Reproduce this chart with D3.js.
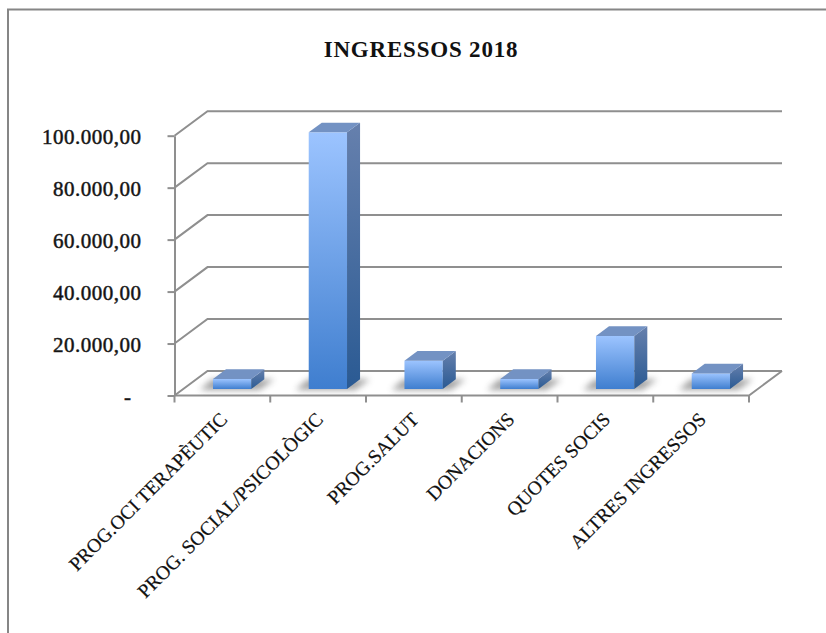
<!DOCTYPE html>
<html>
<head>
<meta charset="utf-8">
<script src="https://cdn.jsdelivr.net/npm/d3@7"></script>
<style>
  html, body { margin: 0; padding: 0; background: #fff; }
  text { font-family: "Liberation Serif", serif; fill: #111; }
</style>
</head>
<body>
<svg id="chart" width="826" height="633"></svg>
<script>
const categories = ["PROG.OCI TERAPÈUTIC", "PROG. SOCIAL/PSICOLÒGIC", "PROG.SALUT", "DONACIONS", "QUOTES SOCIS", "ALTRES INGRESSOS"];
const values = [3850, 98800, 10900, 3850, 20400, 6000];
const yTicks = [0, 20000, 40000, 60000, 80000, 100000];
const title = "INGRESSOS 2018";

const svg = d3.select("#chart");
const grey = "#8f8f8f";

// front plane of the 3d box, the back plane is shifted by depth
const x = d3.scaleBand().domain(categories).range([174.5, 749]);
const y = d3.scaleLinear().domain([0, 100000]).range([395.5, 135.7]);
const depthX = 33, depthY = -24.5;
const barFront = 0.265, barBack = 0.66;

const locale = d3.formatLocale({ decimal: ",", thousands: ".", grouping: [3], currency: ["", ""] });
const fmt = locale.format(",.2f");

const defs = svg.append("defs");
function gradient(id, top, bottom) {
    const g = defs.append("linearGradient").attr("id", id).attr("x1", 0).attr("y1", 0).attr("x2", 0).attr("y2", 1);
    g.append("stop").attr("offset", "0%").attr("stop-color", top);
    g.append("stop").attr("offset", "100%").attr("stop-color", bottom);
}
gradient("front", "#9cc4ff", "#3f7ecf");
gradient("side", "#6680ad", "#2a5a93");
defs.append("filter").attr("id", "blur").attr("x", "-30%").attr("y", "-80%").attr("width", "160%").attr("height", "260%")
    .append("feGaussianBlur").attr("stdDeviation", 3);
defs.append("filter").attr("id", "soft").attr("x", "-5%").attr("y", "-5%").attr("width", "110%").attr("height", "110%")
    .append("feGaussianBlur").attr("stdDeviation", 0.4);

// chart area frame (only left and top show in the picture)
svg.append("path")
    .attr("d", "M8,633V9.5H826")
    .attr("fill", "none").attr("stroke", "#868686").attr("stroke-width", 2);

// walls and floor
const walls = svg.append("g").attr("fill", "none").attr("stroke", grey).attr("stroke-width", 2).attr("filter", "url(#soft)");
const x0 = x.range()[0], x1 = x.range()[1];
walls.selectAll(".grid")
    .data(yTicks)
    .enter().append("path")
    .attr("class", "grid")
    .attr("d", d => `M${x0},${y(d)}L${x0 + depthX},${y(d) + depthY}H${x1 + depthX}`);
walls.append("path")
    .attr("d", `M${x0},${y(0)}H${x1}L${x1 + depthX},${y(0) + depthY}`);

// axes
const yAxis = d3.axisLeft(y).tickValues(yTicks).tickSizeInner(7).tickSizeOuter(0).tickPadding(0)
    .tickFormat(d => d === 0 ? "-" : fmt(d));
const yG = svg.append("g").attr("transform", `translate(${x0},0)`).call(yAxis);
yG.select(".domain").attr("stroke", grey).attr("stroke-width", 2);
yG.selectAll(".tick line").attr("stroke", grey).attr("stroke-width", 2);
yG.selectAll(".tick text")
    .attr("x", d => d === 0 ? -43 : -33)
    .attr("y", 1.5)
    .attr("font-size", 21)
    .attr("letter-spacing", 0.5)
    .attr("font-family", "Liberation Serif")
    .attr("fill", "#222").attr("stroke", "#222").attr("stroke-width", 0.5);

const tickPos = d3.range(categories.length + 1).map(i => x0 + i * x.bandwidth());
svg.append("g").selectAll("line")
    .data(tickPos)
    .enter().append("line")
    .attr("x1", d => d).attr("x2", d => d)
    .attr("y1", y(0)).attr("y2", y(0) + 7)
    .attr("stroke", grey).attr("stroke-width", 2);

// bars
const barW = x.bandwidth() * 0.4;
function barX(d) { return x(d) + (x.bandwidth() - barW) / 2 + depthX * barFront + 1; }
const floorY = y(0) + depthY * barFront;
const dx = depthX * (barBack - barFront), dy = depthY * (barBack - barFront);
const barH = v => y(0) - y(v);

const bars = svg.append("g").selectAll(".bar")
    .data(categories.map((c, i) => ({ c, v: values[i] })))
    .enter().append("g").attr("class", "bar");

bars.append("path")
    .attr("d", d => {
        const l = barX(d.c);
        return `M${l - 13},${floorY + 1}L${l - 1},${floorY + dy}H${l + barW + dx + 10}L${l + barW + 8},${floorY + 1}Z`;
    })
    .attr("fill", "#666").attr("opacity", 0.6).attr("filter", "url(#blur)");
bars.append("rect")
    .attr("x", d => barX(d.c)).attr("y", d => floorY - barH(d.v))
    .attr("width", barW).attr("height", d => barH(d.v))
    .attr("fill", "url(#front)");
bars.append("path")
    .attr("d", d => {
        const r = barX(d.c) + barW, t = floorY - barH(d.v);
        return `M${r},${t}l${dx},${dy}V${floorY + dy}L${r},${floorY}Z`;
    })
    .attr("fill", "url(#side)");
bars.append("path")
    .attr("d", d => {
        const l = barX(d.c), t = floorY - barH(d.v);
        return `M${l},${t}l${dx},${dy}h${barW}l${-dx},${-dy}Z`;
    })
    .attr("fill", "#7392c3");

// category labels
svg.append("g").selectAll(".cat")
    .data(categories)
    .enter().append("text")
    .attr("class", "cat")
    .attr("text-anchor", "end")
    .attr("font-size", 19.5)
    .attr("stroke", "#111").attr("stroke-width", 0.2)
    .attr("transform", d => `translate(${x(d) + x.bandwidth() / 2 + 6},${y(0) + 25}) rotate(-45)`)
    .text(d => d);

svg.append("text")
    .attr("x", 421).attr("y", 57)
    .attr("text-anchor", "middle")
    .attr("font-size", 23).attr("font-weight", "bold")
    .attr("letter-spacing", 0.8)
    .text(title);
</script>
</body>
</html>
